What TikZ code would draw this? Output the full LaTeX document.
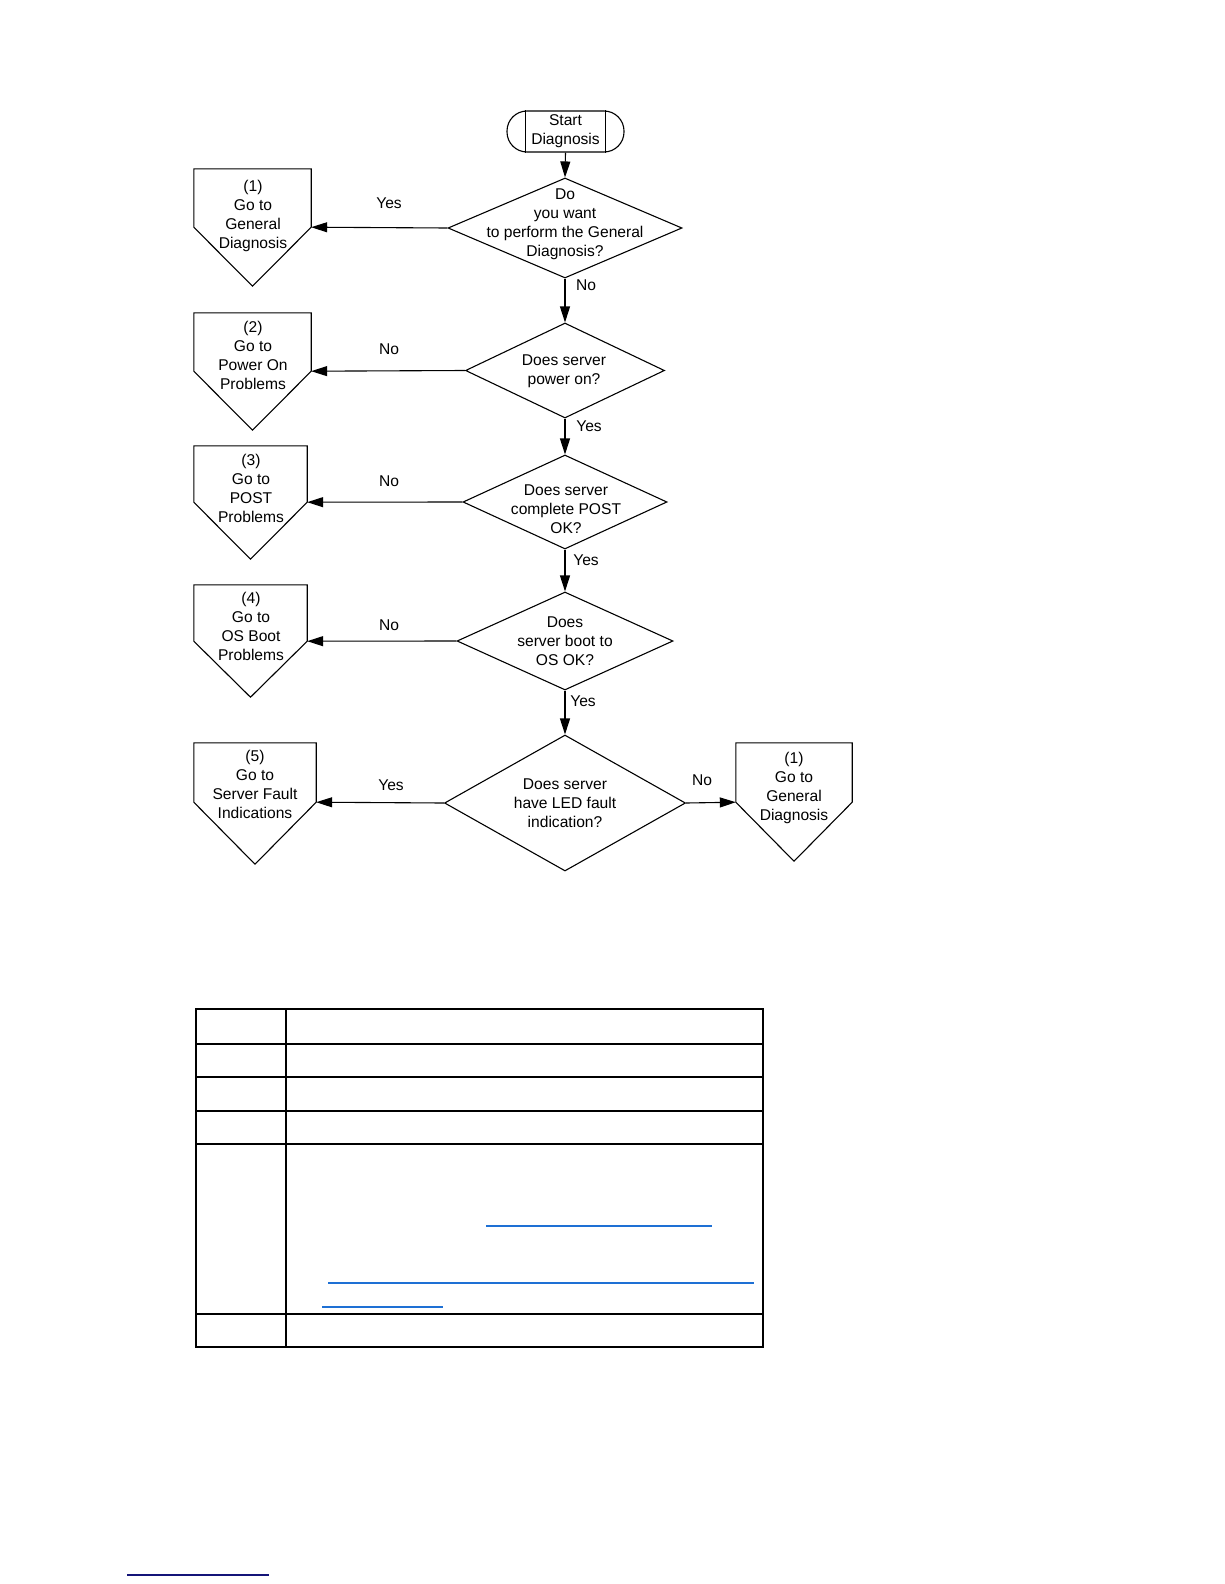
\documentclass[tikz,border=0pt]{standalone}
\usepackage{fontspec}
\setmainfont{Liberation Sans}
\usetikzlibrary{arrows.meta,shapes.geometric,calc}
\definecolor{linkblue}{RGB}{30,112,212}
\definecolor{navyline}{RGB}{20,20,120}
\begin{document}
\begin{tikzpicture}[x=1bp,y=-1bp,
  every node/.style={font=\fontsize{15.6bp}{19bp}\selectfont, inner sep=0pt},
  dec/.style={diamond, draw, line width=1.1bp, inner sep=0pt},
  txt/.style={align=center},
  box/.style={rectangle, inner sep=0pt},
  conn/.style={line width=1.1bp, -{Triangle[length=16bp,width=10bp]}},
  pent/.style={draw, line width=1.1bp, line join=miter},
  tline/.style={line width=2bp},
  theadline/.style={line width=2.6bp},
  link/.style={draw=linkblue, line width=1.3bp}]
\useasboundingbox (0,0) rectangle (1224,1584);

% start terminal
\node[draw, line width=1.1bp, rounded corners=20bp, minimum width=117bp, minimum height=41bp, align=center] (start) at (565.5,131.5) {Start\\Diagnosis};
\draw[line width=1.1bp] ($(start.north)+(-40,0)$) -- ($(start.south)+(-40,0)$);
\draw[line width=1.1bp] ($(start.north)+(40,0)$) -- ($(start.south)+(40,0)$);

% decisions
\node[dec, minimum width=234bp, minimum height=100bp] (d1) at (565,228) {};
\node[txt] (d1t) at (565,224) {Do\\you want\\to perform the General\\Diagnosis?};
\node[dec, minimum width=199bp, minimum height=95bp] (d2) at (565,370.5) {};
\node[txt] (d2t) at (564,371.5) {Does server\\power on?};
\node[dec, minimum width=204bp, minimum height=94bp] (d3) at (565,502) {};
\node[txt] (d3t) at (566,509) {Does server\\complete POST\\OK?};
\node[dec, minimum width=216bp, minimum height=98bp] (d4) at (565,641) {};
\node[txt] (d4t) at (565,641.5) {Does\\server boot to\\OS OK?};
\node[dec, minimum width=241bp, minimum height=136bp] (d5) at (565,803) {};
\node[txt] (d5t) at (565,803.5) {Does server\\have LED fault\\indication?};

% off-page connectors
\node[box, minimum width=117bp, minimum height=58bp] (p1) at (252.5,198) {};
\draw[pent] (p1.north west) -- (p1.north east) -- (p1.south east) -- ($(p1.south)+(0,59)$) -- (p1.south west) -- cycle;
\node[txt] (p1t) at (253,215.5) {(1)\\Go to\\General\\Diagnosis};

\node[box, minimum width=117bp, minimum height=58bp] (p2) at (252.5,342) {};
\draw[pent] (p2.north west) -- (p2.north east) -- (p2.south east) -- ($(p2.south)+(0,59)$) -- (p2.south west) -- cycle;
\node[txt] (p2t) at (253,355.5) {(2)\\Go to\\Power On\\Problems};

\node[box, minimum width=113bp, minimum height=56bp] (p3) at (250.5,474) {};
\draw[pent] (p3.north west) -- (p3.north east) -- (p3.south east) -- ($(p3.south)+(0,57)$) -- (p3.south west) -- cycle;
\node[txt] (p3t) at (251,488.5) {(3)\\Go to\\POST\\Problems};

\node[box, minimum width=113bp, minimum height=56bp] (p4) at (250.5,613) {};
\draw[pent] (p4.north west) -- (p4.north east) -- (p4.south east) -- ($(p4.south)+(0,56)$) -- (p4.south west) -- cycle;
\node[txt] (p4t) at (251,626) {(4)\\Go to\\OS Boot\\Problems};

\node[box, minimum width=122bp, minimum height=59bp] (p5) at (255,772.5) {};
\draw[pent] (p5.north west) -- (p5.north east) -- (p5.south east) -- ($(p5.south)+(0,62)$) -- (p5.south west) -- cycle;
\node[txt] (p5t) at (255,784.5) {(5)\\Go to\\Server Fault\\Indications};

\node[box, minimum width=116bp, minimum height=59bp] (p6) at (794,772.5) {};
\draw[pent] (p6.north west) -- (p6.north east) -- (p6.south east) -- ($(p6.south)+(0,59)$) -- (p6.south west) -- cycle;
\node[txt] (p6t) at (794,787.5) {(1)\\Go to\\General\\Diagnosis};

% connectors
\draw[conn] (start.south) -- (d1.north);
\draw[conn] (d1.west) -- (p1.south east);
\draw[conn] (d1.south) -- (d2.north);
\draw[conn] (d2.west) -- (p2.south east);
\draw[conn] (d2.south) -- (d3.north);
\draw[conn] (d3.west) -- (p3.south east);
\draw[conn] (d3.south) -- (d4.north);
\draw[conn] (d4.west) -- (p4.south east);
\draw[conn] (d4.south) -- (d5.north);
\draw[conn] (d5.west) -- (p5.south east);
\draw[conn] (d5.east) -- (p6.south west);

% labels
\node (l1) at (389,203) {Yes};
\node (l2) at (586,285) {No};
\node (l3) at (389,349) {No};
\node (l4) at (589,426) {Yes};
\node (l5) at (389,481) {No};
\node (l6) at (586,560) {Yes};
\node (l7) at (389,625) {No};
\node (l8) at (583,701) {Yes};
\node (l9) at (391,785) {Yes};
\node (l10) at (702,780) {No};

% table
\draw[tline] (196,1009) rectangle (763,1347);
\draw[theadline] (196,1044) -- (763,1044);
\draw[tline] (196,1077) -- (763,1077);
\draw[tline] (196,1111) -- (763,1111);
\draw[tline] (196,1144) -- (763,1144);
\draw[tline] (196,1314) -- (763,1314);
\draw[theadline] (286,1009) -- (286,1347);

% link underlines
\draw[link] (486,1226) -- (712,1226);
\draw[link] (328,1283) -- (754,1283);
\draw[link, line width=2bp] (322,1307) -- (443,1307);
\draw[draw=navyline, line width=1.3bp] (127,1575) -- (269,1575);
\end{tikzpicture}
\end{document}
